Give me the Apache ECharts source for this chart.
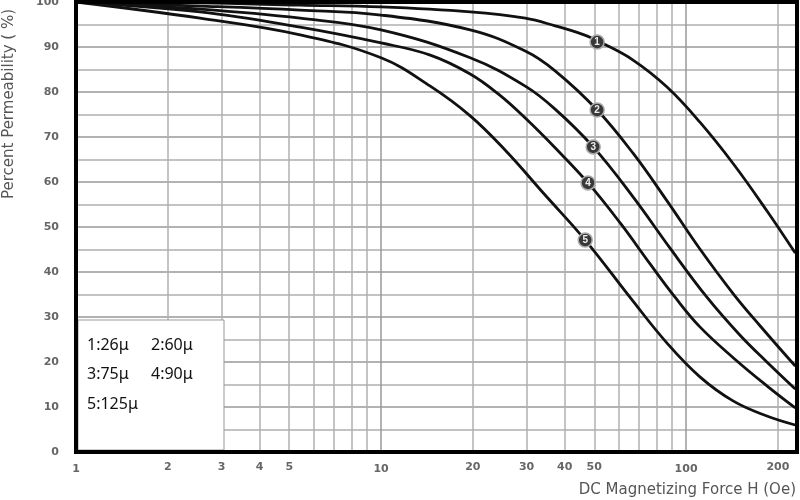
<!DOCTYPE html>
<html>
<head>
<meta charset="utf-8">
<script src="https://cdn.jsdelivr.net/npm/echarts@6/dist/echarts.min.js"></script>
<style>
html, body { margin: 0; background: #fff; }
#main { width: 800px; height: 500px; }
</style>
</head>
<body>
<div id="main"></div>
<script>
// H values (Oe) and percent permeability for each curve
const h1 = [1, 2.55, 5.43, 10, 19.6, 29.7, 37.2, 46.3, 52.2, 67, 86.6, 111, 143, 184, 228];
const v1 = [100, 99.8, 99.3, 98.9, 97.8, 96.4, 94.7, 92.7, 91.1, 87.1, 81.1, 73.3, 64, 53.6, 44.2];
const h2 = [1, 2.55, 5.43, 10, 19.6, 29.7, 37.2, 51.1, 67, 86.6, 111, 143, 175, 228];
const v2 = [100, 99.1, 98.2, 97.1, 93.8, 89.1, 84.7, 76, 66.4, 55.8, 45.1, 35.1, 28, 19.1];
const h3 = [1, 2.55, 5.43, 10, 19.6, 29.7, 37.2, 49.6, 67, 88.6, 117, 150, 184, 228];
const v3 = [100, 98.4, 96.4, 93.8, 87.6, 81.3, 76.2, 67.8, 56.7, 45.3, 34.4, 26, 20, 14];
const h4 = [1, 2.55, 5.43, 10, 14.5, 19.6, 24.5, 29.7, 37.2, 47.7, 60.8, 76.2, 92, 111, 143, 184, 228];
const v4 = [100, 97.8, 94.4, 90.9, 88.2, 84, 79.3, 74.2, 67.6, 59.8, 50.9, 41.8, 34.4, 27.8, 20.9, 14.7, 9.8];
const h5 = [1, 2.55, 5.43, 10, 14.5, 19.6, 25.5, 34.5, 46.7, 66.5, 86.6, 111, 143, 184, 228];
const v5 = [100, 96.4, 92.7, 87.6, 81.3, 74.7, 67.1, 57.1, 47.1, 33.8, 24.2, 16.7, 11.3, 8, 6];

// where the circled numbers sit on each curve [H, %]
const markerPos = [[51.1, 91.1], [51.1, 76], [49.6, 67.8], [47.7, 59.8], [46.7, 47.1]];
const curveNames = ['1', '2', '3', '4', '5'];
const legendTexts = ['1:26μ', '2:60μ', '3:75μ', '4:90μ', '5:125μ'];

// extra log grid lines and the labels shown under some of them
const xMinorGrid = [2, 3, 4, 5, 6, 7, 8, 9, 20, 30, 40, 50, 60, 70, 80, 90, 200];
const xMinorLabels = [2, 3, 4, 5, 20, 30, 40, 50, 200];

const xTitle = 'DC Magnetizing Force H (Oe)';
const yTitle = 'Percent Permeability ( %)';

const tickFont = {
    color: '#666',
    fontSize: 11,
    fontWeight: 'bold',
    fontFamily: 'DejaVu Sans'
};

function curveSeries(name, hs, vs, pos) {
    return {
        name: name,
        type: 'line',
        z: 2,
        smooth: 0.4,
        symbol: 'none',
        lineStyle: { color: '#111', width: 2.8 },
        data: hs.map((h, i) => [h, vs[i]]),
        markPoint: {
            symbol: 'circle',
            symbolSize: 14,
            itemStyle: { color: '#383838', borderColor: '#aaa', borderWidth: 1.5 },
            label: { show: true, formatter: name, color: '#eee', fontSize: 10, fontWeight: 'bold' },
            data: [{ coord: pos }]
        }
    };
}

function getOption() {
    const hs = [h1, h2, h3, h4, h5];
    const vs = [v1, v2, v3, v4, v5];
    const series = curveNames.map((n, i) => curveSeries(n, hs[i], vs[i], markerPos[i]));

    // vertical minor grid lines + their tick labels
    series.unshift({
        type: 'line',
        data: [],
        z: 1,
        silent: true,
        markLine: {
            z: 1,
            silent: true,
            animation: false,
            symbol: ['none', 'none'],
            lineStyle: { color: '#b0b0b0', width: 1.5, type: 'solid' },
            label: Object.assign({ position: 'start', distance: 10, formatter: '{b}' }, tickFont),
            data: xMinorGrid.map(v => ({
                name: String(v),
                xAxis: v,
                label: { show: xMinorLabels.indexOf(v) >= 0 }
            }))
        }
    });

    return {
        animation: false,
        backgroundColor: '#fff',
        grid: {
            left: 76, right: 3, top: 2, bottom: 48,
            show: true,
            borderColor: '#000',
            borderWidth: 4,
            z: 4,
            outerBoundsMode: 'none'
        },
        xAxis: {
            type: 'log',
            logBase: 10,
            min: 1,
            max: 231,
            axisLine: { show: false },
            axisTick: { show: false },
            axisLabel: Object.assign({ margin: 12, showMaxLabel: false }, tickFont),
            splitLine: {
                show: true,
                showMinLine: false,
                showMaxLine: false,
                lineStyle: { color: '#999', width: 1.5 }
            }
        },
        yAxis: {
            type: 'value',
            min: 0,
            max: 100,
            interval: 10,
            axisLine: { show: false },
            axisTick: { show: false },
            axisLabel: Object.assign({ margin: 17 }, tickFont),
            splitLine: {
                showMinLine: false,
                showMaxLine: false,
                lineStyle: { color: '#999', width: 1.5 }
            },
            minorTick: { show: false, splitNumber: 2 },
            minorSplitLine: { show: true, lineStyle: { color: '#b0b0b0', width: 1.5 } }
        },
        graphic: [
            {
                type: 'rect', z: 3,
                shape: { x: 78, y: 320, width: 146, height: 130 },
                style: { fill: '#fff', stroke: '#999', lineWidth: 1 }
            },
            { type: 'text', z: 3, x: 87, y: 345, style: { text: legendTexts[0], font: '16px "Noto Sans"', fill: '#111', verticalAlign: 'middle' } },
            { type: 'text', z: 3, x: 151, y: 345, style: { text: legendTexts[1], font: '16px "Noto Sans"', fill: '#111', verticalAlign: 'middle' } },
            { type: 'text', z: 3, x: 87, y: 374, style: { text: legendTexts[2], font: '16px "Noto Sans"', fill: '#111', verticalAlign: 'middle' } },
            { type: 'text', z: 3, x: 151, y: 374, style: { text: legendTexts[3], font: '16px "Noto Sans"', fill: '#111', verticalAlign: 'middle' } },
            { type: 'text', z: 3, x: 87, y: 404, style: { text: legendTexts[4], font: '16px "Noto Sans"', fill: '#111', verticalAlign: 'middle' } },
            {
                type: 'text', x: 796, y: 490,
                style: { text: xTitle, font: '15px "DejaVu Sans"', fill: '#555', align: 'right', verticalAlign: 'middle' }
            },
            {
                type: 'text', x: 9, y: 104, rotation: Math.PI / 2,
                style: { text: yTitle, font: '15px "DejaVu Sans"', fill: '#555', align: 'center', verticalAlign: 'middle' }
            }
        ],
        series: series
    };
}

const myChart = echarts.init(document.getElementById('main'));
myChart.setOption(getOption());
</script>
</body>
</html>
